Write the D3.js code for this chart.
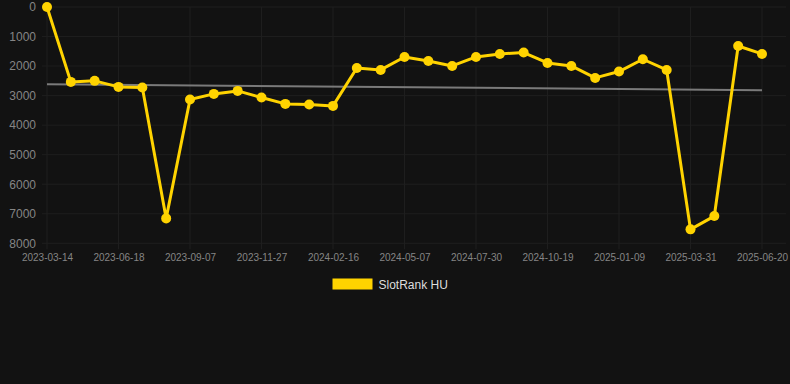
<!DOCTYPE html>
<html><head><meta charset="utf-8">
<script src="https://cdn.jsdelivr.net/npm/d3@7"></script>
<style>html,body{margin:0;padding:0;background:#121212;}svg{display:block;}</style>
</head><body><svg id="c" width="790" height="384"></svg>
<script>
const dates = ["2023-03-14","2023-04-10","2023-05-12","2023-06-18","2023-07-14","2023-08-11","2023-09-07","2023-10-04","2023-10-31","2023-11-27","2023-12-24","2024-01-20","2024-02-16","2024-03-14","2024-04-10","2024-05-07","2024-06-04","2024-07-02","2024-07-30","2024-08-26","2024-09-22","2024-10-19","2024-11-15","2024-12-13","2025-01-09","2025-02-05","2025-03-04","2025-03-31","2025-04-27","2025-05-24","2025-06-20"];
const ranks = [0,2535,2500,2705,2727,7157,3133,2942,2840,3065,3280,3300,3348,2063,2130,1691,1826,1995,1691,1589,1543,1894,1995,2401,2186,1769,2130,7528,7078,1319,1589];
const yTicks = [0,1000,2000,3000,4000,5000,6000,7000,8000];
const labelEvery = 3;
const trendEnds = [2614,2817];
const seriesName = "SlotRank HU";

const svg = d3.select("#c");
const pLeft=47, pRight=762, pTop=7, pBottom=243.3;
const x = d3.scalePoint().domain(dates).range([pLeft,pRight]);
const y = d3.scaleLinear().domain([0,8000]).range([pTop,pBottom]);
const gridCol = "#1e1e1e";
const shownDates = dates.filter((d,i)=>i%labelEvery===0);

// horizontal grid
svg.append("g").selectAll("line").data(yTicks).join("line")
  .attr("x1",42).attr("x2",786).attr("y1",d=>y(d)).attr("y2",d=>y(d))
  .attr("stroke",gridCol).attr("stroke-width",1);
// vertical grid
svg.append("g").selectAll("line").data(shownDates).join("line")
  .attr("x1",d=>x(d)).attr("x2",d=>x(d)).attr("y1",pTop).attr("y2",pBottom+6)
  .attr("stroke",gridCol).attr("stroke-width",1);

// y axis labels
const ya = svg.append("g").attr("transform",`translate(36,0)`)
  .call(d3.axisLeft(y).tickValues(yTicks).tickSize(0).tickPadding(0).tickFormat(d3.format("d")));
ya.select(".domain").remove();
ya.selectAll("text").attr("fill","#858585").style("font-family","Liberation Sans, Arial, sans-serif").style("font-size","12px");

// x axis labels
const xa = svg.append("g").attr("transform",`translate(0,${pBottom})`)
  .call(d3.axisBottom(x).tickValues(shownDates).tickSize(0).tickPadding(11));
xa.select(".domain").remove();
xa.selectAll("text").attr("fill","#858585").style("font-family","Liberation Sans, Arial, sans-serif").style("font-size","10px");

// trend line
svg.append("line")
  .attr("x1",x(dates[0])).attr("x2",x(dates[dates.length-1]))
  .attr("y1",y(trendEnds[0])).attr("y2",y(trendEnds[1]))
  .attr("stroke","#7a7a7a").attr("stroke-width",2);

const yellow = "#FFD300";
svg.append("path").datum(ranks)
  .attr("d", d3.line().x((d,i)=>x(dates[i])).y(d=>y(d)))
  .attr("fill","none").attr("stroke",yellow).attr("stroke-width",3).attr("stroke-linejoin","round");
svg.append("g").selectAll("circle").data(ranks).join("circle")
  .attr("cx",(d,i)=>x(dates[i])).attr("cy",d=>y(d)).attr("r",5).attr("fill",yellow);

// legend
svg.append("rect").attr("x",332.5).attr("y",278.5).attr("width",40).attr("height",11).attr("fill",yellow);
svg.append("text").attr("x",378.5).attr("y",288.5).text(seriesName)
  .attr("fill","#dddddd").style("font-family","Liberation Sans, Arial, sans-serif").style("font-size","12px");
</script></body></html>
